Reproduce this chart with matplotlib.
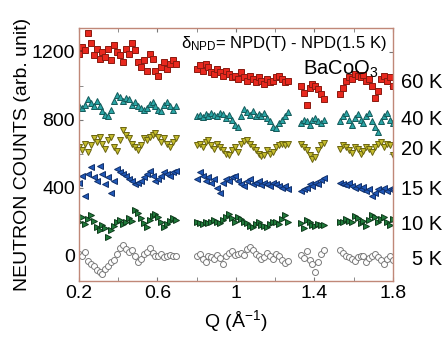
import numpy as np
import matplotlib
matplotlib.use("Agg")
import matplotlib.pyplot as plt
import matplotlib.transforms as mtransforms

plt.rcParams['font.family'] = ['Liberation Sans', 'DejaVu Sans']
plt.rcParams['mathtext.fontset'] = 'custom'
plt.rcParams['mathtext.rm'] = 'Liberation Sans'
plt.rcParams['mathtext.it'] = 'Liberation Sans:italic'

# Q grid (four measured segments)
q_seg1 = np.linspace(0.2, 0.695, 34)
q_seg2 = np.linspace(0.8, 1.265, 32)
q_seg3 = np.linspace(1.33, 1.45, 9)
q_seg4 = np.linspace(1.53, 1.80, 19)
Q = np.concatenate([q_seg1, q_seg2, q_seg3, q_seg4])

# offset difference curves (arb. unit)
k60 = ([1190,1230,1210,1310,1250,1180,1220,1160,1200,1170,1220,1150,1240,1200,1180,1140,1220,1190,1250,1210,1140,1110,1150,1090,1190,1160,1090,1060,1110,1140,1100,1130,1150,1130]
       + [1100,1120,1090,1130,1110,1080,1070,1100,1080,1060,1090,1070,1050,1060,1040,1080,1050,1030,1060,1040,1020,1050,1030,1010,1040,1020,1030,1050,1060,1040,1020,1030]
       + [1000,960,890,990,1010,1000,980,950,920]
       + [950,990,1030,1050,1040,1070,1060,1050,1065,1030,1040,1000,930,970,1040,1060,1030,1050,1000])
k40 = ([880,870,890,920,900,880,910,880,850,830,820,860,910,945,935,910,930,920,890,905,880,870,855,870,895,905,880,860,850,885,905,880,855,880]
       + [820,830,815,835,825,840,830,820,840,835,810,830,800,770,760,820,865,845,830,850,825,835,820,840,810,790,760,750,780,800,820,845]
       + [780,800,790,770,800,810,790,780,800]
       + [790,820,840,800,770,810,835,800,780,820,840,790,760,730,790,820,840,800,780])
k20 = ([640,620,660,610,650,690,670,700,660,630,680,700,640,615,680,740,710,690,660,640,620,650,690,680,700,710,720,700,670,690,660,640,670,690]
       + [650,660,640,670,680,650,630,660,640,620,600,590,620,640,610,660,675,680,660,640,620,600,585,590,620,600,610,640,650,655,650,660]
       + [660,640,620,590,570,580,620,650,665]
       + [625,650,640,620,605,640,630,600,615,640,625,610,640,660,670,640,660,650,590])
k15 = ([430,470,350,480,520,460,440,530,480,420,460,370,440,510,490,480,470,450,440,420,430,440,460,480,500,470,440,450,470,490,480,470,490,500]
       + [450,490,470,440,460,430,450,400,370,430,450,440,460,470,440,420,410,440,450,420,430,440,415,430,420,410,430,420,410,400,410,390]
       + [380,395,400,420,410,430,420,445,455]
       + [430,420,415,425,410,400,410,395,405,380,390,350,370,390,380,400,380,395,390])
k10 = ([200,230,185,215,240,205,170,150,180,160,110,150,175,200,210,185,200,220,205,270,250,220,190,170,210,235,245,225,200,170,185,205,220,210]
       + [195,190,185,195,190,200,210,195,190,210,225,245,220,200,230,215,200,190,175,170,185,195,180,175,170,185,195,200,185,215,240,200]
       + [190,165,210,200,180,175,185,180,182]
       + [195,200,215,205,200,235,220,190,205,175,210,240,225,200,215,230,195,180,215])
k5 = ([10,-5,20,-30,-50,-60,-85,-95,-110,-80,-60,-40,-25,10,45,60,40,20,35,0,-35,-20,10,20,45,15,-5,0,10,-10,0,5,-5,0]
      + [0,10,-20,-35,0,-10,-20,5,-15,-50,0,15,25,5,10,15,5,40,50,30,10,-5,-20,-10,15,0,-20,10,0,-25,-45,-30]
      + [5,-15,25,-25,-50,-95,-40,10,35]
      + [30,15,0,-10,-20,-30,-10,0,-5,-35,-15,0,10,-10,-25,-50,-20,-5,-25])

labels = ['5 K', '10 K', '15 K', '20 K', '40 K', '60 K']
label_y = [-24, 182, 388, 623, 800, 1017]

fig = plt.figure(figsize=(4.46, 3.39), dpi=100)
ax = fig.add_axes([0.177, 0.171, 0.704, 0.746])

styles = [
    (k5,  'o', 'white',   '#7a7a7a', 4.3),
    (k10, '>', '#1f7a3a', '#0d3a1a', 4.8),
    (k15, '<', '#2058b8', '#10306a', 4.8),
    (k20, 'v', '#c4bc2c', '#6a6410', 4.8),
    (k40, '^', '#2aa6a6', '#145a5a', 4.8),
    (k60, 's', '#e8281e', '#8a1a10', 4.0),
]
for vals, m, fc, ec, ms in styles:
    ax.plot(Q, vals, linestyle='none', marker=m, ms=ms, mfc=fc, mec=ec, mew=0.7)

ax.set_xlim(0.2, 1.8)
ax.set_ylim(-150, 1340)
ax.set_xticks([0.2, 0.6, 1.0, 1.4, 1.8])
ax.set_xticklabels(['0.2', '0.6', '1', '1.4', '1.8'])
ax.set_xticks([0.4, 0.8, 1.2, 1.6], minor=True)
ax.set_yticks([0, 400, 800, 1200])
ax.set_yticks([200, 600, 1000], minor=True)
ax.tick_params(which='both', direction='in', top=True, right=True, length=3,
               color='#777777', labelsize=14, pad=3)
for s in ax.spines.values():
    s.set_color('#c08878')
    s.set_linewidth(1.0)

ax.set_xlabel('Q (Å$^{-1}$)', fontsize=14, labelpad=4)
ax.set_ylabel('NEUTRON COUNTS (arb. unit)', fontsize=14, labelpad=0)

ax.text(0.98, 0.975, r'δ$_{\mathrm{NPD}}$= NPD(T) - NPD(1.5 K)', transform=ax.transAxes,
        ha='right', va='top', fontsize=12)
ax.text(0.955, 0.878, 'BaCoO$_3$', transform=ax.transAxes, ha='right', va='top', fontsize=14.5)

trans = mtransforms.blended_transform_factory(ax.transAxes, ax.transData)
for lab, yv in zip(labels, label_y):
    ax.text(1.158, yv, lab, transform=trans, ha='right', va='center', fontsize=14.5, clip_on=False)

fig.savefig('out.png', dpi=100)
